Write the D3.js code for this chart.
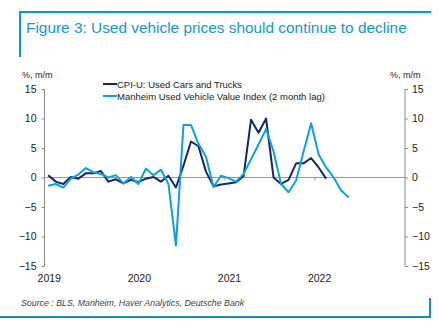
<!DOCTYPE html>
<html>
<head>
<meta charset="utf-8">
<script src="https://cdn.jsdelivr.net/npm/d3@7"></script>
<style>
  body { margin: 0; background: #fff; }
  svg { display: block; font-family: "Liberation Sans", Arial, sans-serif; }
</style>
</head>
<body>
<svg id="chart" width="439" height="324"></svg>
<script>
// monthly, Jan 2019 onwards
var cpiUsedCars = [0.4, -0.7, -1.1, 0.1, -0.2, 0.7, 0.7, 1.1, -0.7, -0.3, -1.0, -0.4,
                   -0.8, -0.2, 0.1, -0.7, 0.3, -1.7, 2.0, 6.1, 5.3, 1.0, -1.5, -1.2,
                   -1.0, -0.8, 0.2, 9.8, 7.6, 10.0, 0.0, -1.1, -0.4, 2.4, 2.4, 3.3,
                   1.7, -0.2];
var manheimIndex = [-1.4, -1.1, -1.7, -0.2, 0.5, 1.6, 0.9, 0.6, 0.0, 0.4, -1.0, 0.1,
                    -1.1, 1.5, 0.4, 1.3, -1.1, -11.5, 8.9, 8.9, 5.7, 3.5, -1.6, 0.3,
                    -0.1, -0.7, 0.6, 3.1, 5.6, 8.2, 4.4, -1.1, -2.5, -0.5, 4.4, 9.2,
                    3.9, 1.7, 0.0, -2.2, -3.4];
var yearLabels = ["2019", "2020", "2021", "2022"];
var yTicks = [15, 10, 5, 0, -5, -10, -15];
var seriesNames = ["CPI-U: Used Cars and Trucks", "Manheim Used Vehicle Value Index (2 month lag)"];

var DARK = "#13266f";
var LIGHT = "#0ea0dc";
var FRAME = "#0a96d8";

var svg = d3.select("#chart");

// frame + title
svg.append("line").attr("x1", 20).attr("y1", 12).attr("x2", 431).attr("y2", 12)
   .attr("stroke", FRAME).attr("stroke-width", 2);
svg.append("line").attr("x1", 20).attr("y1", 11).attr("x2", 20).attr("y2", 57)
   .attr("stroke", FRAME).attr("stroke-width", 2);
svg.append("text").attr("x", 26).attr("y", 33)
   .attr("font-size", 15.4).attr("fill", "#1596d2")
   .text("Figure 3: Used vehicle prices should continue to decline");

svg.append("line").attr("x1", 0).attr("y1", 317).attr("x2", 430).attr("y2", 317)
   .attr("stroke", "#1b8db5").attr("stroke-width", 2);
svg.append("line").attr("x1", 430).attr("y1", 298).attr("x2", 430).attr("y2", 318)
   .attr("stroke", "#1b8db5").attr("stroke-width", 2);
svg.append("text").attr("x", 21).attr("y", 306)
   .attr("font-size", 8.8).attr("font-style", "italic").attr("fill", "#444")
   .text("Source : BLS, Manheim, Haver Analytics, Deutsche Bank");

// scales
var x = d3.scaleLinear().domain([-0.5, 47.5]).range([44.5, 405]);
var y = d3.scaleLinear().domain([-15, 15]).range([266, 89]);

// axes
var leftAxis = svg.append("g").attr("transform", "translate(44.5,0)")
  .call(d3.axisLeft(y).tickValues(yTicks).tickSize(3).tickPadding(5));
var rightAxis = svg.append("g").attr("transform", "translate(405,0)")
  .call(d3.axisRight(y).tickValues(yTicks).tickSize(3).tickPadding(4));
[leftAxis, rightAxis].forEach(function (ax) {
  ax.selectAll("path").attr("stroke", "#8a8a8a").attr("d", function () {
    return "M0," + y(15) + "V" + y(-15);
  });
  ax.selectAll("line").attr("stroke", "#8a8a8a");
  ax.selectAll("text").attr("font-size", 10.5).attr("fill", "#222")
    .attr("font-family", "Liberation Sans, Arial, sans-serif");
});

svg.append("text").attr("x", 22).attr("y", 78).attr("font-size", 9).attr("fill", "#222").text("%, m/m");
svg.append("text").attr("x", 390).attr("y", 78).attr("font-size", 9).attr("fill", "#222").text("%, m/m");

// zero line with year ticks
svg.append("line").attr("x1", x(-0.5)).attr("x2", x(47.5))
   .attr("y1", y(0)).attr("y2", y(0)).attr("stroke", "#9a9a9a").attr("stroke-width", 1);
svg.selectAll(".ytick").data([12, 24, 36]).enter().append("line")
   .attr("x1", function (d) { return x(d - 0.5); })
   .attr("x2", function (d) { return x(d - 0.5); })
   .attr("y1", y(0)).attr("y2", y(0) + 3)
   .attr("stroke", "#9a9a9a");

svg.selectAll(".year").data(yearLabels).enter().append("text")
   .attr("x", function (d, i) { return x(i * 12) + 1; })
   .attr("y", 282).attr("text-anchor", "middle")
   .attr("font-size", 10.5).attr("fill", "#222")
   .text(function (d) { return d; });

// series
var line = d3.line()
  .x(function (d, i) { return x(i); })
  .y(function (d) { return y(d); });

svg.append("path").datum(cpiUsedCars).attr("d", line)
   .attr("fill", "none").attr("stroke", DARK).attr("stroke-width", 2).attr("stroke-linejoin", "round");
svg.append("path").datum(manheimIndex).attr("d", line)
   .attr("fill", "none").attr("stroke", LIGHT).attr("stroke-width", 2).attr("stroke-linejoin", "round");

// legend
var legend = svg.selectAll(".legend").data(seriesNames).enter().append("g")
  .attr("transform", function (d, i) { return "translate(103," + (84 + i * 12) + ")"; });
legend.append("line").attr("x1", 0).attr("x2", 14).attr("y1", 0).attr("y2", 0)
  .attr("stroke", function (d, i) { return i ? LIGHT : DARK; }).attr("stroke-width", 2);
legend.append("text").attr("x", 14).attr("y", 3.5).attr("font-size", 9.5).attr("fill", "#222")
  .text(function (d) { return d; });
</script>
</body>
</html>
